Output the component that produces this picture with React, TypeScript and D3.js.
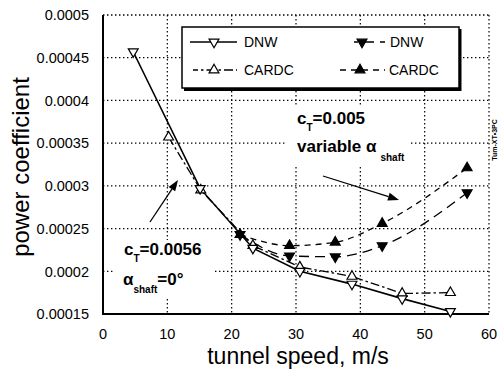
import React from "react";
import * as d3 from "d3";

const dnwConstSpeed = [4.7, 15.1, 23.3, 30.6, 38.7, 46.5, 54.0];
const dnwConstCp = [0.000457, 0.000297, 0.000227, 0.0002, 0.000185, 0.000168, 0.000153];
const cardcConstSpeed = [10.2, 15.2, 23.3, 30.6, 38.7, 46.5, 54.0];
const cardcConstCp = [0.000357, 0.000295, 0.00023, 0.000205, 0.000194, 0.000174, 0.000175];
const varSpeed = [21.3, 29.0, 36.1, 43.4, 56.6];
const dnwVarCp = [0.000243, 0.000218, 0.000217, 0.00023, 0.000292];
const cardcVarCp = [0.000243, 0.00023, 0.000234, 0.000256, 0.000321];

const xTicks = [0, 10, 20, 30, 40, 50, 60];
const xTickLabels = ["0", "10", "20", "30", "40", "50", "60"];
const yTicks = [0.00015, 0.0002, 0.00025, 0.0003, 0.00035, 0.0004, 0.00045, 0.0005];
const yTickLabels = ["0.00015", "0.0002", "0.00025", "0.0003", "0.00035", "0.0004", "0.00045", "0.0005"];

const FONT = "'Liberation Sans', Arial, Helvetica, sans-serif";

const x = d3.scaleLinear().domain([0, 60]).range([103, 489]);
const y = d3.scaleLinear().domain([0.00015, 0.0005]).range([314, 15]);

const straight = d3.line<[number, number]>().x((d) => x(d[0])).y((d) => y(d[1]));
const smooth = d3
  .line<[number, number]>()
  .x((d) => x(d[0]))
  .y((d) => y(d[1]))
  .curve(d3.curveMonotoneX);

const tri = d3.symbol().type(d3.symbolTriangle).size(42)() as string;

const zip = (a: number[], b: number[]) => a.map((v, i) => [v, b[i]] as [number, number]);

function Marker({ cx, cy, down, filled }: { cx: number; cy: number; down: boolean; filled: boolean }) {
  return (
    <path
      d={tri}
      transform={`translate(${cx},${cy}) rotate(${down ? 180 : 0})`}
      fill={filled ? "#000" : "#fff"}
      stroke="#000"
      strokeWidth={1.2}
    />
  );
}

function Arrow({ x1, y1, x2, y2 }: { x1: number; y1: number; x2: number; y2: number }) {
  const ang = Math.atan2(y2 - y1, x2 - x1);
  const L = 11;
  const w = 4;
  const bx = x2 - L * Math.cos(ang);
  const by = y2 - L * Math.sin(ang);
  const px = -Math.sin(ang) * w;
  const py = Math.cos(ang) * w;
  return (
    <g>
      <line x1={x1} y1={y1} x2={bx} y2={by} stroke="#000" strokeWidth={1.3} />
      <path d={`M${x2},${y2}L${bx + px},${by + py}L${bx - px},${by - py}Z`} fill="#000" />
    </g>
  );
}

export default function App() {
  const dnwC = zip(dnwConstSpeed, dnwConstCp);
  const cardcC = zip(cardcConstSpeed, cardcConstCp);
  const dnwV = zip(varSpeed, dnwVarCp);
  const cardcV = zip(varSpeed, cardcVarCp);
  const dotted = "1.4,2.6";
  const dashDot = "9,3,2.5,3";
  const longDash = "10,6";
  const shortDash = "6,5";

  return (
    <svg
      width={501}
      height={369}
      style={{ position: "absolute", left: 0, top: 0, background: "#fff" }}
      fontFamily={FONT}
    >
      <rect width={501} height={369} fill="#fff" />
      {/* grid */}
      {xTicks.slice(1).map((t) => (
        <line key={"gx" + t} x1={x(t)} x2={x(t)} y1={y(0.0005)} y2={y(0.00015)} stroke="#000" strokeWidth={1.2} strokeDasharray={dotted} />
      ))}
      {yTicks.slice(1).map((t) => (
        <line key={"gy" + t} x1={x(0)} x2={x(60)} y1={y(t)} y2={y(t)} stroke="#000" strokeWidth={1.2} strokeDasharray={dotted} />
      ))}
      {/* white boxes behind annotations */}
      <rect x={115} y={240} width={100} height={58} fill="#fff" />
      <rect x={286} y={107} width={124} height={60} fill="#fff" />
      {/* axes */}
      <line x1={x(0)} x2={x(0)} y1={y(0.0005)} y2={y(0.00015) + 1} stroke="#000" strokeWidth={2} />
      <line x1={x(0)} x2={x(60)} y1={y(0.00015)} y2={y(0.00015)} stroke="#000" strokeWidth={2} />

      {/* tick labels */}
      {yTicks.map((t, i) => (
        <text key={"yl" + t} x={89} y={y(t)} dy="0.36em" textAnchor="end" fontSize={14.5}>
          {yTickLabels[i]}
        </text>
      ))}
      {xTicks.map((t, i) => (
        <text key={"xl" + t} x={x(t)} y={339} textAnchor="middle" fontSize={14.5}>
          {xTickLabels[i]}
        </text>
      ))}
      <text x={298} y={364} textAnchor="middle" fontSize={23}>
        tunnel speed, m/s
      </text>
      <text transform="translate(29,167) rotate(-90)" textAnchor="middle" fontSize={24}>
        power coefficient
      </text>

      {/* series lines */}
      <path d={straight(cardcC) || ""} fill="none" stroke="#000" strokeWidth={1.3} strokeDasharray={dashDot} />
      <path d={straight(dnwC) || ""} fill="none" stroke="#000" strokeWidth={1.6} />
      <path d={smooth(dnwV) || ""} fill="none" stroke="#000" strokeWidth={1.3} strokeDasharray={longDash} />
      <path d={smooth(cardcV) || ""} fill="none" stroke="#000" strokeWidth={1.3} strokeDasharray={shortDash} />

      {cardcC.map((d, i) => (
        <Marker key={"cc" + i} cx={x(d[0])} cy={y(d[1])} down={false} filled={false} />
      ))}
      {dnwC.map((d, i) => (
        <Marker key={"dc" + i} cx={x(d[0])} cy={y(d[1])} down={true} filled={false} />
      ))}
      {dnwV.map((d, i) => (
        <Marker key={"dv" + i} cx={x(d[0])} cy={y(d[1])} down={true} filled={true} />
      ))}
      {cardcV.map((d, i) => (
        <Marker key={"cv" + i} cx={x(d[0])} cy={y(d[1])} down={false} filled={true} />
      ))}

      {/* annotations */}
      <Arrow x1={150} y1={222} x2={178} y2={180} />
      <Arrow x1={323} y1={176} x2={399} y2={200} />
      <text x={124} y={255} fontSize={17} fontWeight="bold">
        c<tspan dy={7} fontSize={10}>T</tspan>
        <tspan dy={-7}>=0.0056</tspan>
      </text>
      <text x={123} y={285} fontSize={17} fontWeight="bold">
        α<tspan dy={8} fontSize={10}>shaft</tspan>
        <tspan dy={-8}>=0°</tspan>
      </text>
      <text x={297} y={124} fontSize={17} fontWeight="bold">
        c<tspan dy={7} fontSize={10}>T</tspan>
        <tspan dy={-7}>=0.005</tspan>
      </text>
      <text x={297} y={152} fontSize={17} fontWeight="bold">
        variable α<tspan dx={4} dy={9} fontSize={10}>shaft</tspan>
      </text>

      {/* legend */}
      <line x1={184} y1={89.5} x2={461} y2={89.5} stroke="#000" strokeWidth={3} />
      <line x1={460} y1={29} x2={460} y2={91} stroke="#000" strokeWidth={3} />
      <rect x={182} y={27} width={277} height={61} fill="#fff" stroke="#000" strokeWidth={1.5} />
      <line x1={190} x2={237} y1={42} y2={42} stroke="#000" strokeWidth={1.5} />
      <Marker cx={214} cy={42} down={true} filled={false} />
      <text x={244} y={47} fontSize={14}>DNW</text>
      <line x1={193} x2={237} y1={70} y2={70} stroke="#000" strokeWidth={1.3} strokeDasharray={dashDot} strokeDashoffset={4} />
      <Marker cx={214} cy={70} down={false} filled={false} />
      <text x={244} y={75} fontSize={14}>CARDC</text>
      <line x1={354} x2={385} y1={42} y2={42} stroke="#000" strokeWidth={1.3} strokeDasharray={longDash} strokeDashoffset={6} />
      <Marker cx={362} cy={42} down={true} filled={true} />
      <text x={390} y={47} fontSize={14}>DNW</text>
      <line x1={340} x2={385} y1={70} y2={70} stroke="#000" strokeWidth={1.3} strokeDasharray={shortDash} />
      <Marker cx={360} cy={70} down={false} filled={true} />
      <text x={389} y={75} fontSize={14}>CARDC</text>

      {/* top frame dotted */}
      <line x1={x(0)} x2={x(60)} y1={y(0.0005)} y2={y(0.0005)} stroke="#000" strokeWidth={1.2} strokeDasharray={dotted} />

      <text transform="translate(497,140) rotate(-90)" textAnchor="middle" fontSize={7} fontWeight="bold">
        Tum-XT•3PC
      </text>
    </svg>
  );
}
